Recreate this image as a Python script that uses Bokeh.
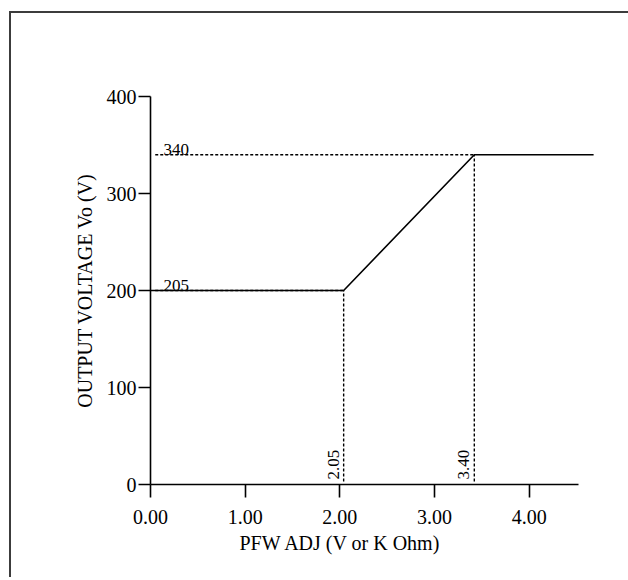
import math
from bokeh.plotting import figure
from bokeh.layouts import column
from bokeh.models import FixedTicker, PrintfTickFormatter, Range1d, Title
from bokeh.core.properties import value
from bokeh.embed import file_html
from bokeh.resources import INLINE

# ---- data ----
curve_x = [0.0, 2.04, 3.42, 4.68]
curve_y = [200, 200, 340, 340]

knee_x = [2.04, 3.42]
knee_y = [200, 340]
knee_x_labels = ["2.05", "3.40"]
level_labels = ["205", "340"]

x_ticks = [0, 1, 2, 3, 4]
y_ticks = [0, 100, 200, 300, 400]

FONT = "Liberation Serif"

p = figure(width=617, height=564, output_backend="svg", toolbar_location=None,
           x_range=Range1d(0, 4.7), y_range=Range1d(0, 400),
           min_border_left=139, min_border_right=33, min_border_top=83, min_border_bottom=93)
p.outline_line_color = None
p.xgrid.grid_line_color = None
p.ygrid.grid_line_color = None

# main curve
p.line(curve_x, curve_y, line_color="black", line_width=1.6)

# dashed guides
p.segment(x0=[0.05, 0.05], y0=knee_y, x1=knee_x, y1=knee_y,
          line_color="black", line_width=1.4, line_dash="3 2")
p.segment(x0=knee_x, y0=[3, 3], x1=knee_x, y1=knee_y,
          line_color="black", line_width=1.4, line_dash="3 2")

# level labels
p.text(x=[0, 0], y=knee_y, text=level_labels, x_offset=13,
       text_align="left", text_baseline="bottom",
       text_font=value(FONT), text_font_size="17px", text_color="black")

# knee x labels (rotated)
p.text(x=knee_x, y=[0, 0], text=knee_x_labels, angle=math.pi / 2,
       x_offset=-5, y_offset=-5, text_align="left", text_baseline="bottom",
       text_font=value(FONT), text_font_size="17px", text_color="black")

for ax in (p.xaxis[0], p.yaxis[0]):
    ax.major_tick_in = 0
    ax.major_label_text_font = FONT
    ax.major_label_text_font_size = "20px"
    ax.major_label_text_color = "black"
    ax.axis_label_text_font = FONT
    ax.axis_label_text_font_size = "20px"
    ax.axis_label_text_font_style = "normal"
    ax.axis_label_text_color = "black"
    ax.axis_line_color = "black"
    ax.axis_line_width = 1.6
    ax.major_tick_line_color = "black"
    ax.major_tick_line_width = 1.6
    ax.minor_tick_line_color = None

p.xaxis[0].ticker = FixedTicker(ticks=x_ticks)
p.xaxis[0].formatter = PrintfTickFormatter(format="%.2f")
p.xaxis[0].bounds = (0, 4.52)
p.xaxis[0].major_tick_out = 13
p.xaxis[0].major_label_standoff = 12

x_title = Title(text="PFW ADJ (V or K Ohm)", align="left", offset=89,
                text_font=FONT, text_font_size="20px", text_font_style="normal",
                text_color="black", standoff=6)
p.add_layout(x_title, "below")

p.yaxis[0].ticker = FixedTicker(ticks=y_ticks)
p.yaxis[0].major_tick_out = 12
p.yaxis[0].major_label_standoff = 2
p.yaxis[0].axis_label = "OUTPUT VOLTAGE Vo (V)"
p.yaxis[0].axis_label_standoff = 8

page = column(p, margin=(11, 0, 0, 9),
              styles={"border-left": "2px solid #3c3c3c", "border-top": "2px solid #3c3c3c"})

open("out.html", "w").write(file_html(page, INLINE))
